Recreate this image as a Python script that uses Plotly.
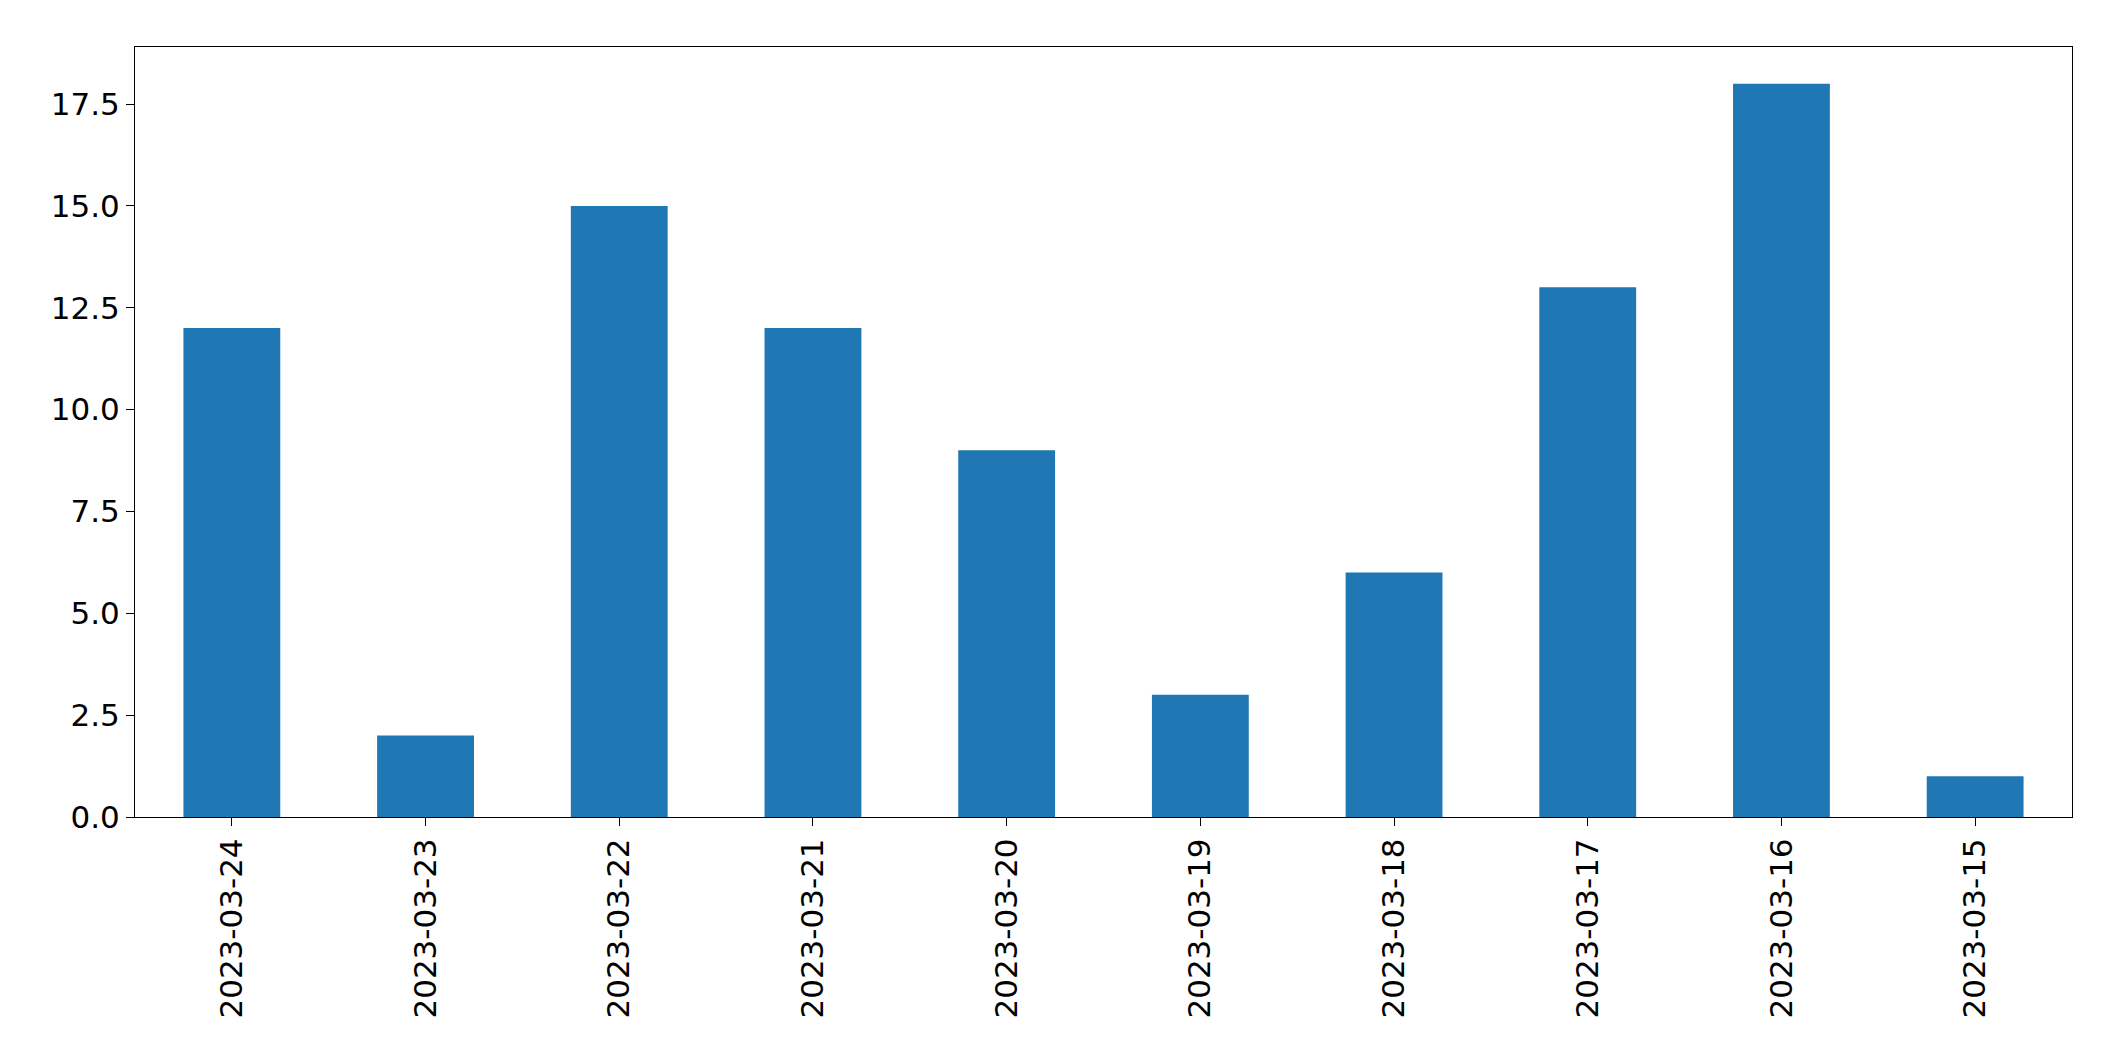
import plotly.graph_objects as go

dates = ["2023-03-24","2023-03-23","2023-03-22","2023-03-21","2023-03-20",
         "2023-03-19","2023-03-18","2023-03-17","2023-03-16","2023-03-15"]
counts = [12, 2, 15, 12, 9, 3, 6, 13, 18, 1]
yticks = [0, 2.5, 5, 7.5, 10, 12.5, 15, 17.5]
ytext = ["0.0","2.5","5.0","7.5","10.0","12.5","15.0","17.5"]

fig = go.Figure(go.Bar(x=list(range(len(dates))), y=counts, width=0.5,
                       marker=dict(color="#1f77b4", line=dict(width=0))))
fig.update_layout(
    width=2104, height=1061, paper_bgcolor="white", plot_bgcolor="white",
    margin=dict(l=127, r=40, t=39, b=252),
    font=dict(family="DejaVu Sans", size=31, color="black"),
    showlegend=False,
)
fig.update_xaxes(range=[-0.5, 9.5], tickvals=list(range(len(dates))), ticktext=dates,
                 tickangle=-90, showline=True, linecolor="black", mirror=True,
                 ticks="outside", ticklen=8, tickcolor="black", showgrid=False)
fig.update_yaxes(range=[0, 18.9], tickvals=yticks, ticktext=ytext,
                 showline=True, linecolor="black", mirror=True,
                 ticks="outside", ticklen=8, tickcolor="black", showgrid=False, zeroline=False)
fig.write_html("out.html")
